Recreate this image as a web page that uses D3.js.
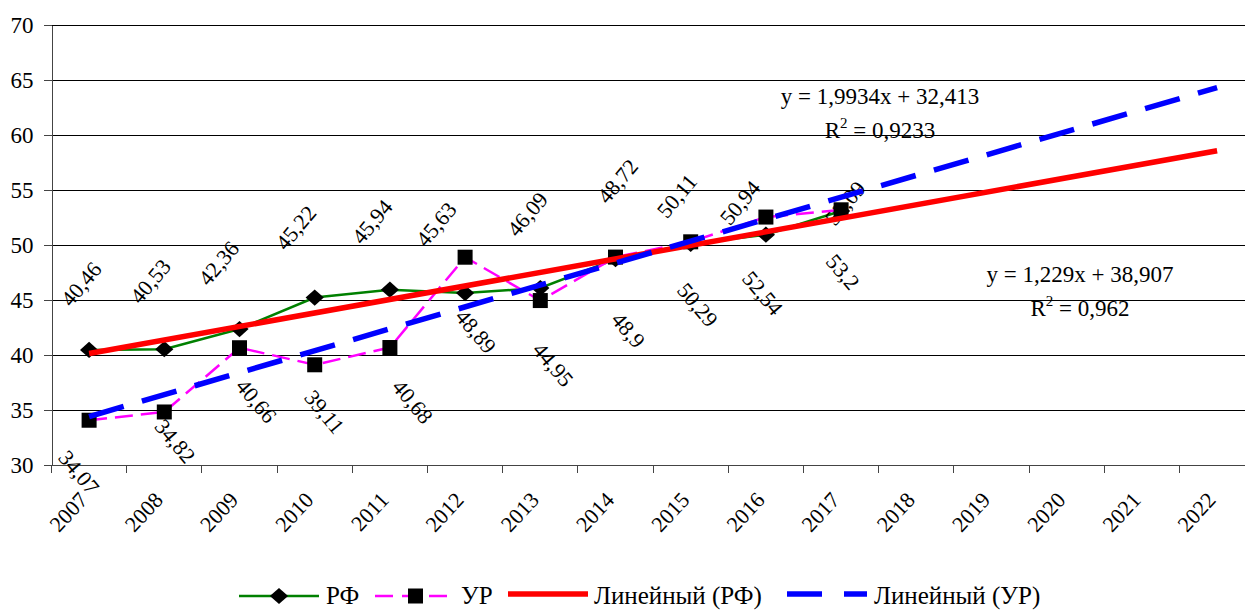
<!DOCTYPE html>
<html><head><meta charset="utf-8">
<script src="https://cdn.jsdelivr.net/npm/d3@7"></script>
<style>
html,body{margin:0;padding:0;background:#fff;overflow:hidden}
svg, svg text{font-family:'Liberation Serif','Times New Roman',Times,'DejaVu Serif',serif !important}
</style></head>
<body>
<script>
// ---- data ----
const years = ['2007','2008','2009','2010','2011','2012','2013','2014','2015','2016','2017','2018','2019','2020','2021','2022'];
const rfValues = [40.46, 40.53, 42.36, 45.22, 45.94, 45.63, 46.09, 48.72, 50.11, 50.94, 53.09];
const urValues = [34.07, 34.82, 40.66, 39.11, 40.68, 48.89, 44.95, 48.9, 50.29, 52.54, 53.2];
const yTicks = [30, 35, 40, 45, 50, 55, 60, 65, 70];
const trendRF = [1.229, 38.907];     // slope, intercept (x = 1..16)
const trendUR = [1.9934, 32.413];
const eqRF = ['y = 1,229x + 38,907', '0,962'];
const eqUR = ['y = 1,9934x + 32,413', '0,9233'];
const seriesNames = ['РФ', 'УР', 'Линейный (РФ)', 'Линейный (УР)'];

// ---- layout (manual label nudges, as in the original) ----
const rfNudge = [[-8,-66],[-14,-68],[-21,-66],[-19,-70],[-18,-68],[-29,-69],[-13,-74],[2,-78],[-14,-48],[-26,-32],[4,-8]];
const urNudge = [[-10,52],[11,29],[17,53],[10,47],[23,54],[11,74],[13,64],[13,73],[7,63],[-3,76],[2,62]];

const W = 1245, H = 610;
const svg = d3.select('body').append('svg').attr('width', W).attr('height', H);

const x = d3.scaleBand().domain(years).range([51.5, 1254.7]);
const y = d3.scaleLinear().domain([30, 70]).range([465, 25]);
const cx = i => x(years[i]) + x.bandwidth() / 2;
const fmt = v => String(v).replace('.', ',');

// gridlines
svg.append('g').selectAll('line').data(yTicks.filter(d => d > 30)).join('line')
  .attr('x1', x.range()[0]).attr('x2', x.range()[1])
  .attr('y1', d => y(d)).attr('y2', d => y(d))
  .attr('stroke', '#000').attr('stroke-width', 1).attr('shape-rendering', 'crispEdges');

// y axis
const gy = svg.append('g').attr('transform', `translate(${x.range()[0]},0)`)
  .call(d3.axisLeft(y).tickValues(yTicks).tickSize(8).tickSizeOuter(0).tickPadding(10));
gy.attr('font-family', null).attr('font-size', 23);
gy.select('.domain').attr('stroke', '#444');
gy.selectAll('.tick line').attr('stroke', '#444');
gy.selectAll('text').attr('fill', '#000');
gy.attr('shape-rendering', 'crispEdges');

// x axis
const gx = svg.append('g').attr('transform', `translate(0,${y(30)})`)
  .call(d3.axisBottom(x).tickSize(0).tickSizeOuter(0).tickPadding(0));
gx.attr('font-family', null).attr('font-size', 22);
gx.select('.domain').attr('stroke', '#444').attr('shape-rendering', 'crispEdges');
gx.selectAll('.tick text')
  .attr('fill', '#000')
  .attr('text-anchor', 'end').attr('dy', null).attr('y', null)
  .attr('transform', 'translate(0,36) rotate(-47)');
const bounds = years.map(d => x(d)).concat([x.range()[1]]);
svg.append('g').selectAll('line').data(bounds).join('line')
  .attr('x1', d => d).attr('x2', d => d).attr('y1', y(30)).attr('y2', y(30) + 8)
  .attr('stroke', '#444').attr('shape-rendering', 'crispEdges');

// RF series
const line = d3.line().x((d, i) => cx(i)).y(d => y(d));
svg.append('path').attr('d', line(rfValues)).attr('fill', 'none')
  .attr('stroke', '#008000').attr('stroke-width', 2.5);
const diamond = d3.symbol().type(d3.symbolSquare).size(132);
const diaT = (px, py) => `translate(${px},${py}) scale(1.12,1) rotate(45)`;
svg.append('g').selectAll('path').data(rfValues).join('path')
  .attr('d', diamond).attr('transform', (d, i) => diaT(cx(i), y(d)))
  .attr('fill', '#000');
svg.append('g').attr('font-size', 22).selectAll('text').data(rfValues).join('text')
  .attr('transform', (d, i) => `translate(${cx(i) + rfNudge[i][0]},${y(d) + rfNudge[i][1]}) rotate(-50)`)
  .attr('text-anchor', 'middle').attr('dy', '0.35em').text(fmt);

// UR series
svg.append('path').attr('d', line(urValues)).attr('fill', 'none')
  .attr('stroke', '#ff00ff').attr('stroke-width', 2.5).attr('stroke-dasharray', '18,8');
svg.append('g').selectAll('rect').data(urValues).join('rect')
  .attr('x', (d, i) => cx(i) - 7.5).attr('y', d => y(d) - 7.5)
  .attr('width', 15).attr('height', 15).attr('fill', '#000');
svg.append('g').attr('font-size', 22).selectAll('text').data(urValues).join('text')
  .attr('transform', (d, i) => `translate(${cx(i) + urNudge[i][0]},${y(d) + urNudge[i][1]}) rotate(50)`)
  .attr('text-anchor', 'middle').attr('dy', '0.35em').text(fmt);

// trendlines
const ends = [1, years.length];
const tl = p => d3.line().x(t => cx(t - 1)).y(t => y(p[0] * t + p[1]))(ends);
svg.append('path').attr('d', tl(trendRF)).attr('fill', 'none')
  .attr('stroke', '#ff0000').attr('stroke-width', 5.5);
svg.append('path').attr('d', tl(trendUR)).attr('fill', 'none')
  .attr('stroke', '#0000ff').attr('stroke-width', 5.5).attr('stroke-dasharray', '36,19');

// equations
function eq(txt, r2, ex, ey) {
  const g = svg.append('g').attr('font-size', 23).attr('text-anchor', 'middle');
  g.append('text').attr('x', ex).attr('y', ey).text(txt);
  const t = g.append('text').attr('x', ex).attr('y', ey + 34);
  t.append('tspan').text('R');
  t.append('tspan').attr('font-size', 15).attr('dy', -10).text('2');
  t.append('tspan').attr('dy', 10).text(' = ' + r2);
}
eq(eqUR[0], eqUR[1], 880, 104);
eq(eqRF[0], eqRF[1], 1080, 282);

// legend
const lg = svg.append('g').attr('font-size', 25);
const LY = 596;
lg.append('line').attr('x1', 239).attr('x2', 319).attr('y1', LY).attr('y2', LY).attr('stroke', '#008000').attr('stroke-width', 2.5);
lg.append('path').attr('d', diamond).attr('transform', diaT(279, LY)).attr('fill', '#000');
lg.append('text').attr('x', 326).attr('y', LY + 8).text(seriesNames[0]);
lg.append('line').attr('x1', 375).attr('x2', 455).attr('y1', LY).attr('y2', LY).attr('stroke', '#ff00ff').attr('stroke-width', 2.5).attr('stroke-dasharray', '18,9');
lg.append('rect').attr('x', 408).attr('y', LY - 7.5).attr('width', 15).attr('height', 15).attr('fill', '#000');
lg.append('text').attr('x', 461).attr('y', LY + 8).text(seriesNames[1]);
lg.append('line').attr('x1', 508).attr('x2', 588).attr('y1', LY - 2).attr('y2', LY - 2).attr('stroke', '#ff0000').attr('stroke-width', 5.5);
lg.append('text').attr('x', 594).attr('y', LY + 8).text(seriesNames[2]);
lg.append('line').attr('x1', 787).attr('x2', 867).attr('y1', LY - 2).attr('y2', LY - 2).attr('stroke', '#0000ff').attr('stroke-width', 5.5).attr('stroke-dasharray', '35,22');
lg.append('text').attr('x', 874).attr('y', LY + 8).text(seriesNames[3]);
</script>
</body></html>
